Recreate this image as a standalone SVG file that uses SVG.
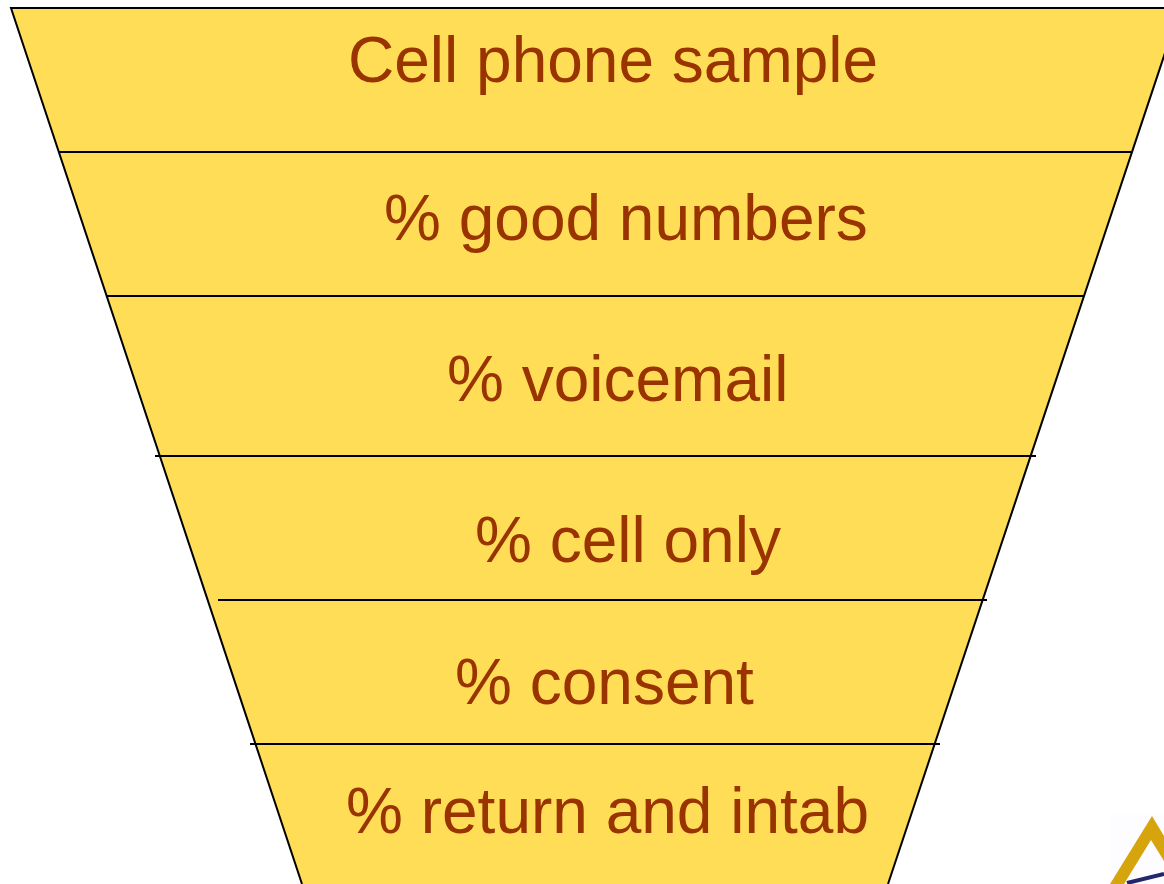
<svg xmlns="http://www.w3.org/2000/svg" width="1164" height="884" viewBox="0 0 1164 884">
<style>
.l{font-family:"Liberation Sans",Arial,sans-serif;font-size:64px;fill:#993300}
.d{stroke:#000;stroke-width:2;fill:none}
</style>
<rect width="1164" height="884" fill="#fff"/>
<g id="funnel">
<path d="M11 8H1180L888 884H302Z" fill="#ffdd57"/>
<path d="M302 884L11 8H1180L888 884" fill="none" stroke="#000" stroke-width="2"/>
</g>
<g id="connectors">
<path class="d" d="M59 152H1131"/>
<path class="d" d="M107 296H1084"/>
<path class="d" d="M155 456H1036"/>
<path class="d" d="M218 600H987"/>
<path class="d" d="M250 744H940"/>
</g>
<g id="n1"><text class="l" x="348" y="81.5">Cell phone sample</text></g>
<g id="n2"><text class="l" x="384" y="239.5">% good numbers</text></g>
<g id="n3"><text class="l" x="447" y="401">% voicemail</text></g>
<g id="n4"><text class="l" x="475" y="562">% cell only</text></g>
<g id="n5"><text class="l" x="455" y="704">% consent</text></g>
<g id="n6"><text class="l" x="346" y="832.5">% return and intab</text></g>
<g id="logo">
<rect x="1110" y="815" width="54" height="69" fill="#fdfdff"/>
<path d="M1110 884L1152 816L1164 836V861L1151 840L1124 884Z" fill="#d6a40c"/>
<path d="M1127 883L1164 874" fill="none" stroke="#23256e" stroke-width="4"/>
</g>
</svg>
